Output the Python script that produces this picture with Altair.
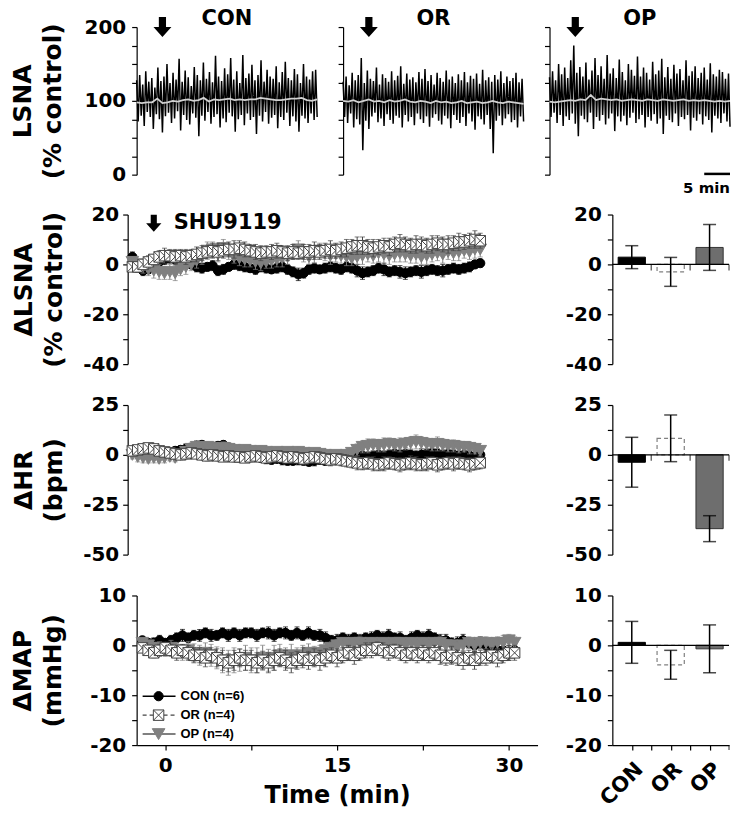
import altair as alt
import pandas as pd
import numpy as np

FONT = "DejaVu Sans"
LEG_FONT = "Liberation Sans"

# ---------------- data ----------------
GROUPS = ["CON", "OR", "OP"]
N_ANIMALS = [6, 4, 4]

# raw LSNA traces (% control), alternating peaks / troughs, -5..30 min
TRACE_T0, TRACE_T1 = -5, 30
CON_HI = [128, 135, 122, 140, 126, 131, 118, 145, 127, 133,
          150, 124, 138, 129, 157, 126, 141, 132, 120, 146,
          135, 128, 152, 130, 139, 125, 161, 133, 127, 144,
          136, 158, 129, 140, 124, 162, 131, 137, 149, 128,
          135, 155, 126, 142, 133, 130, 147, 125, 139, 153,
          131, 128, 143, 136, 124, 150, 133, 129, 140, 142]
CON_LO = [72, 80, 66, 85, 78, 62, 82, 75, 57, 79,
          84, 70, 76, 86, 60, 81, 74, 68, 83, 77,
          52, 80, 73, 85, 69, 78, 82, 64, 76, 71,
          84, 79, 58, 75, 81, 67, 83, 74, 78, 55,
          80, 72, 85, 69, 77, 81, 63, 78, 74, 84,
          66, 79, 72, 58, 80, 76, 70, 83, 74, 78]
OR_HI = [126, 133, 121, 138, 128, 135, 158, 124, 141, 130,
         127, 145, 122, 136, 131, 126, 140, 128, 134, 147,
         123, 137, 129, 132, 125, 139, 130, 143, 127, 135,
         122, 138, 131, 126, 141, 129, 133, 124, 136, 128,
         139, 125, 134, 130, 137, 123, 142, 128, 132, 126,
         135, 129, 140, 124, 133, 127, 131, 138, 125, 130]
OR_LO = [78, 70, 83, 64, 75, 68, 33, 73, 62, 79,
         84, 71, 76, 66, 82, 74, 69, 80, 77, 64,
         81, 72, 78, 67, 83, 75, 70, 79, 65, 77,
         82, 73, 68, 80, 76, 63, 81, 74, 70, 78,
         66, 83, 72, 61, 79, 75, 68, 81, 62, 29,
         73, 80, 67, 76, 82, 71, 74, 64, 79, 72]
OP_HI = [132, 140, 128, 150, 136, 145, 131, 155, 175, 138,
         146, 133, 152, 129, 141, 158, 135, 147, 130, 162,
         137, 144, 131, 156, 139, 128, 150, 142, 134, 160,
         133, 145, 138, 129, 153, 136, 141, 157, 132, 146,
         130, 149, 137, 143, 128, 155, 134, 140, 147, 131,
         138, 145, 129, 151, 136, 133, 142, 139, 130, 137]
OP_LO = [78, 84, 70, 81, 66, 79, 74, 83, 69, 52,
         80, 75, 71, 84, 62, 78, 73, 81, 68, 76,
         83, 59, 79, 72, 80, 67, 77, 84, 70, 75,
         81, 64, 78, 73, 82, 69, 76, 55, 80, 74,
         71, 83, 66, 78, 75, 81, 60, 77, 73, 82,
         68, 79, 74, 57, 80, 76, 70, 83, 72, 65]
CON_MEAN = [98, 97, 98, 98, 103, 97, 98, 100, 99, 101, 102, 100, 101, 104, 99, 102, 101, 102,
            103, 101, 102, 101, 102, 102, 104, 103, 102, 101, 101, 102, 103, 103, 104, 101, 100, 102]
OR_MEAN = [100, 99, 101, 98, 100, 102, 99, 100, 98, 101, 99, 100, 102, 99, 98, 100, 99, 97,
           100, 98, 99, 97, 98, 100, 97, 98, 99, 97, 98, 100, 98, 97, 99, 98, 97, 96]
OP_MEAN = [99, 98, 99, 100, 101, 100, 102, 101, 108, 101, 103, 102, 101, 102, 100, 101, 102, 101,
           100, 102, 101, 100, 102, 101, 100, 101, 102, 100, 101, 100, 101, 100, 99, 100, 99, 100]
DRUG_T = 0          # SHU9119 injection
SCALE_BAR = [25, 30]  # 5 min

# time course, samples every 0.5 min starting at -2 min
T_START, T_STEP = -2.0, 0.5

LSNA_CON = [3, -1, -2.5, -2, -1, 1, 2, 2.5, 2, 2.5,
            2, 0, -1, -1.5, -1, -0.5, -2.5, -2, -1, 0,
            -0.5, -1, -1.5, -2, -1, -1.5, -2, -1.5, -1, -2,
            -3, -4, -3.5, -2, -1.5, -2, -1.5, -1, -1.5, -2,
            -1, -1.5, -2.5, -3.5, -3, -2.5, -1.5, -2, -3, -2.5,
            -3, -3.5, -3, -2.5, -3, -2.5, -2, -2.5, -2.5, -2,
            -1.5, -2, -1.5, -1, 0, 0.5]
LSNA_OR = [-1, -1, 0, 1, 2, 3, 3.5, 3.5, 3, 3.5,
           3, 3.5, 4, 4.5, 5, 5.5, 5, 5.5, 6, 6,
           6.5, 6, 5.5, 5, 4.5, 5, 5, 5.5, 5, 4.5,
           5, 4.5, 5, 5, 5.5, 5, 5.5, 6, 5.5, 6,
           6.5, 7, 7.5, 7.5, 7, 6.5, 7, 7.5, 7, 8,
           8.5, 8, 7.5, 8, 8, 7.5, 8, 8.5, 8, 8,
           8.5, 9, 9, 9.5, 10, 9.5]
LSNA_OP = [1, 0, -1, -2, -2.5, -3, -3.5, -3, -3.5, -2,
           -1, 0, 1.5, 3, 5.5, 6, 4, 6.5, 5, 3,
           2.5, 2, 1.5, 1, 0.5, 1, 1.5, 2, 2.5, 3,
           5, 6, 4, 3, 4, 5.5, 4.5, 3.5, 4, 3.5,
           3, 2.5, 3, 3.5, 4, 3.5, 4.5, 4, 3.5, 4,
           4.5, 4, 3.5, 4, 3, 3.5, 4, 4.5, 4, 5,
           4.5, 5, 5.5, 5, 6, 6]
LSNA_CON_ERR = [2, 2, 2, 1.5, 1.5, 2, 2, 2, 1.5, 2,
                2, 1.5, 2, 2, 1.5, 2, 2, 2, 1.5, 2,
                2, 2, 1.5, 2, 2, 2, 1.5, 2, 2, 2,
                2, 2.5, 2, 2, 2, 1.5, 2, 2, 2, 2,
                2, 2, 2.5, 2.5, 2, 2, 2, 2.5, 2, 2,
                2.5, 2.5, 2, 2, 2.5, 2, 2, 2, 2.5, 2,
                2, 2, 2, 2, 1.5, 1.5]
LSNA_OR_ERR = [1.5, 2, 2, 2.5, 2, 2.5, 3, 2.5, 3, 2.5,
               3, 2.5, 3, 3, 2.5, 3, 3.5, 3, 3, 3.5,
               3, 3, 2.5, 3, 3, 2.5, 3, 3, 2.5, 3,
               3, 2.5, 3, 3, 3.5, 3, 3, 3.5, 3, 3,
               3.5, 3, 3.5, 3.5, 3, 3.5, 3, 3, 3.5, 3,
               3.5, 3, 3, 3.5, 3, 3, 3.5, 3, 3, 3.5,
               3, 3.5, 3, 3, 3.5, 3]
LSNA_OP_ERR = [2, 2, 2.5, 2.5, 3, 3, 2.5, 3, 3, 2.5,
               3, 2.5, 3, 3, 3.5, 3, 3, 3.5, 3, 2.5,
               3, 3, 2.5, 3, 3, 2.5, 3, 3, 3.5, 3,
               3, 3.5, 3, 3, 3.5, 3, 3, 3.5, 3, 3,
               3.5, 3, 3, 3.5, 3, 3, 3.5, 4, 3.5, 3,
               3.5, 3, 3, 3.5, 3, 3.5, 3, 3, 3.5, 3,
               3, 3.5, 3, 3, 3.5, 3]

HR_CON = [1.5, 1, 0.5, 0, 0.5, 1, 1.5, 1, 2, 2.5,
          3, 3.5, 4.5, 5, 4, 3, 4.5, 5, 3.5, 2,
          1, 0, -0.5, -1, -1.5, -2, -2.5, -2, -2.5, -3,
          -3, -2.5, -3, -3.5, -3, -2.5, -3, -2.5, -2, -2.5,
          -2, -1.5, -1, -0.5, -1, -0.5, 0, -0.5, 0, 0.5,
          0, 0.5, 0, -0.5, 0, 0.5, 1, 0.5, 0, 0.5,
          0, -0.5, 0, -0.5, -1, 0]
HR_OR = [2, 2.5, 3, 3.5, 3, 2, 1.5, 1, 0.5, 0,
         0.5, 1, 0.5, 0, -0.5, 0, -0.5, -1, -0.5, -1,
         -1, -1.5, -1, -0.5, -1, -1.5, -1, -0.5, -1, -1.5,
         -1, -1.5, -2, -1.5, -1, -1.5, -2, -2.5, -2, -2.5,
         -3, -3.5, -4, -4.5, -4, -4.5, -5, -4.5, -4, -4.5,
         -5, -4.5, -4, -4.5, -5, -4.5, -4, -5, -4.5, -4,
         -4.5, -4, -4.5, -5, -4.5, -4]
HR_OP = [0, -1, -1.5, -2, -1.5, -2, -1.5, -1, -1.5, 0,
         1.5, 3, 4, 3.5, 4, 3.5, 3, 3.5, 3, 2.5,
         2, 2.5, 2, 1.5, 2, 1.5, 1, 1.5, 1, 1.5,
         1, 1.5, 1, 0.5, 1, 0.5, 0, -0.5, 0, -0.5,
         0, 1, 2.5, 4, 4.5, 5, 4.5, 5, 5.5, 5,
         5, 5.5, 6, 6.5, 6, 5.5, 5, 5.5, 5, 4.5,
         4.5, 4, 4, 3.5, 3, 2]
HR_CON_ERR = [1.5, 1.5, 2, 2, 1.5, 2, 2, 2.5, 2, 2,
              2.5, 2, 2.5, 2, 2, 2.5, 2, 2, 2.5, 2,
              2, 2, 2.5, 2, 2, 2.5, 2, 2, 2.5, 2,
              2, 2.5, 2, 2, 2.5, 2, 2, 2.5, 2, 2.5,
              2.5, 2, 2.5, 3, 2.5, 2.5, 3, 2.5, 2.5, 3,
              2.5, 3, 2.5, 2.5, 3, 2.5, 3, 2.5, 2.5, 3,
              2.5, 2.5, 3, 2.5, 2.5, 2]
HR_OR_ERR = [2, 2, 2.5, 2, 2, 2.5, 2, 2, 2.5, 2,
             2.5, 2, 2, 2.5, 2.5, 2, 2.5, 2, 2.5, 2.5,
             2.5, 2, 2.5, 2.5, 2, 2.5, 2.5, 2, 2.5, 2.5,
             2.5, 2.5, 3, 2.5, 2.5, 3, 2.5, 3, 2.5, 3,
             3, 3, 3.5, 3, 3, 3.5, 3, 3.5, 3, 3,
             3.5, 3, 3.5, 3.5, 3, 3.5, 3, 3.5, 3, 3,
             3.5, 3, 3, 3.5, 3, 3]
HR_OP_ERR = [2, 2.5, 2.5, 2, 2.5, 2, 2.5, 2, 2, 2.5,
             2.5, 3, 2.5, 3, 2.5, 3, 2.5, 3, 2.5, 2.5,
             2.5, 2, 2.5, 2, 2.5, 2, 2.5, 2, 2.5, 2,
             2, 2.5, 2, 2.5, 2, 2.5, 2, 2.5, 2, 2,
             2.5, 2.5, 3, 3, 3.5, 3, 3, 3.5, 3, 3,
             3.5, 3, 3, 3.5, 3, 3, 3, 3.5, 3, 3,
             3, 3, 2.5, 3, 2.5, 2.5]

MAP_CON = [1, 0.5, 0.5, 1, 0.5, 1, 1.5, 2, 1.5, 2,
           2, 2.5, 2, 2, 2.5, 2, 2.5, 2, 2.5, 2.5,
           2, 2.5, 2.5, 2, 2.5, 2.5, 2, 2.5, 2, 2.5,
           2, 2, 1.5, 1, 1, 1.5, 1, 1.5, 1, 1.5,
           1.5, 2, 1.5, 2, 1.5, 1.5, 1, 1.5, 2, 1.5,
           2, 1.5, 1, 1, 0.5, 0.5, 1, 0.5, 0, 0.5,
           0, -0.5, -1, -1, -1.5, -1]
MAP_OR = [-0.5, -1, -1.5, -1, -0.5, -1, -1.5, -1, -1.5, -2,
          -2, -2.5, -2, -2.5, -3, -3.5, -3, -2.5, -3, -3,
          -3.5, -3, -3.5, -3, -2.5, -3, -3.5, -3, -2.5, -3,
          -2.5, -3, -2.5, -2, -2.5, -2, -1.5, -2, -1.5, -1,
          -1, -0.5, -1, -1.5, -1, -1.5, -2, -1.5, -2, -1.5,
          -2, -1.5, -2, -2.5, -2, -2.5, -3, -2.5, -3, -2.5,
          -2.5, -2, -2.5, -2, -1.5, -1.5]
MAP_OP = [0.5, 0, -0.5, -0.5, -1, -0.5, -1, -1.5, -1, -1.5,
          -2, -1.5, -2, -2.5, -3, -3.5, -3, -3, -2.5, -3,
          -3, -2.5, -3, -2.5, -2, -2.5, -2, -2.5, -2, -1.5,
          -2, -1.5, -1, -0.5, 0, 0.5, 0, 0.5, 0.5, 0,
          0.5, 0, 0.5, 0, 0.5, 0.5, 0, 0.5, 0, 0.5,
          0, 0.5, 0.5, 0, 0, -0.5, 0, 0.5, 0, 0.5,
          0.5, 0, 0.5, 0.5, 1, 0.5]
MAP_CON_ERR = [0.8, 0.8, 1, 1, 0.8, 1, 1, 1.2, 1, 1,
               1.2, 1, 1.2, 1, 1, 1.2, 1, 1.2, 1, 1,
               1.2, 1, 1.2, 1.2, 1, 1.2, 1, 1.2, 1, 1.2,
               1, 1.2, 1.2, 1, 1.2, 1, 1.2, 1, 1.2, 1,
               1.2, 1, 1.2, 1.2, 1, 1.2, 1, 1.2, 1, 1.2,
               1.2, 1, 1.2, 1.2, 1, 1.2, 1.2, 1, 1.2, 1.2,
               1.2, 1, 1.2, 1.2, 1.5, 1.2]
MAP_OR_ERR = [0.8, 1, 1, 1.2, 1, 1.2, 1.5, 1.2, 1.5, 1.5,
              1.5, 1.8, 1.5, 1.8, 2, 1.8, 2, 1.8, 2, 2,
              2, 1.8, 2, 2, 1.8, 2, 2, 1.8, 2, 1.8,
              1.8, 2, 1.8, 1.5, 1.8, 1.5, 1.5, 1.8, 1.5, 1.5,
              1.5, 1.2, 1.5, 1.5, 1.2, 1.5, 1.5, 1.2, 1.5, 1.5,
              1.5, 1.5, 1.8, 1.5, 1.8, 1.5, 1.8, 1.5, 1.8, 1.5,
              1.5, 1.5, 1.8, 1.5, 1.5, 1.5]
MAP_OP_ERR = [0.8, 1, 1, 1.2, 1.2, 1.5, 1.5, 1.5, 1.8, 1.8,
              2, 2, 2.2, 2.2, 2.5, 2.5, 2.5, 2.2, 2.5, 2.5,
              2.5, 2.5, 2.2, 2.5, 2.2, 2, 2.2, 2, 2, 1.8,
              1.8, 1.5, 1.5, 1.2, 1.2, 1, 1.2, 1, 1.2, 1,
              1, 1.2, 1, 1.2, 1, 1, 1.2, 1, 1.2, 1,
              1.2, 1, 1.2, 1.2, 1, 1.2, 1, 1.2, 1, 1.2,
              1.2, 1.5, 1.2, 1.5, 1.2, 1.2]

# summary bars (mean +/- SD)
LSNA_BAR = [2.9, -3.0, 6.8]
LSNA_BAR_ERR = [4.6, 5.8, 9.2]
HR_BAR = [-3.7, 8.3, -37.0]
HR_BAR_ERR = [12.5, 11.7, 6.5]
MAP_BAR = [0.6, -3.9, -0.7]
MAP_BAR_ERR = [4.2, 2.9, 4.8]

# ---------------- styles ----------------
XSQ = "M-1,-1L1,-1L1,1L-1,1ZM-1,-1L1,1M1,-1L-1,1"
ARROW = "M-0.36,-1L0.36,-1L0.36,0L0.9,0L0,1L-0.9,0L-0.36,0Z"
STY = {
    "CON": dict(color="black", shape="circle", fill="black", size=85, dash=[1, 0], lw=1.5),
    "OR": dict(color="#444444", shape=XSQ, fill="white", size=110, dash=[4, 3], lw=1.2),
    "OP": dict(color="#808080", shape="triangle-down", fill="#808080", size=160, dash=[1, 0], lw=2),
}
PAD = {"left": 3, "top": -1, "right": 0, "bottom": 0}
TRACE_W, TRACE_H, TRACE_GAP = 181, 148, 26
TS_H, ROW_GAP = 150, 41
BAR_W = 117


def trace_chart(name, hi, lo, mean, first, last):
    vals = [v for pair in zip(hi, lo) for v in pair]
    t = np.linspace(TRACE_T0, TRACE_T1, len(vals))
    df = pd.DataFrame({"t": t, "v": vals})
    mdf = pd.DataFrame({"t": np.linspace(TRACE_T0, TRACE_T1, len(mean)), "v": mean})
    x = alt.X("t:Q", scale=alt.Scale(domain=[TRACE_T0, TRACE_T1], nice=False, zero=False), axis=None)
    yv = list(range(0, 201, 25))
    if first:
        yax = alt.Axis(values=yv, labelExpr="datum.value % 100 === 0 ? '' + datum.value : ''",
                       title=["LSNA", "(% control)"], minExtent=54, maxExtent=54,
                       labelPadding=6, titlePadding=20 - PAD["left"])
    else:
        yax = alt.Axis(values=yv, labels=False, title=None)
    y = alt.Y("v:Q", scale=alt.Scale(domain=[0, 200], nice=False, zero=False), axis=yax)
    layers = [
        alt.Chart(df).mark_line(color="black", strokeWidth=1.5).encode(x=x, y=y),
        alt.Chart(mdf).mark_line(color="#d2d2d2", strokeWidth=1.8).encode(x=x, y=y),
        alt.Chart(pd.DataFrame({"t": [DRUG_T], "v": [200]})).mark_point(
            shape=ARROW, filled=True, color="black", size=400, opacity=1).encode(x=x, y=y),
        alt.Chart(pd.DataFrame({"name": [name]})).mark_text(
            align="center", baseline="alphabetic", font=FONT, fontWeight="bold", fontSize=21,
            color="black").encode(x=alt.value(TRACE_W / 2), y=alt.value(-2), text="name:N"),
    ]
    if last:
        sb = pd.DataFrame({"t": [SCALE_BAR[0]], "t2": [SCALE_BAR[1]], "v": [1]})
        layers.append(alt.Chart(sb).mark_rule(color="black", strokeWidth=2.5).encode(x=x, x2="t2:Q", y=y))
        sbt = pd.DataFrame({"t": [SCALE_BAR[1]], "v": [0], "lab": ["5 min"]})
        layers.append(alt.Chart(sbt).mark_text(align="right", baseline="middle", dy=13, font=FONT,
                                               fontWeight="bold", fontSize=15, color="black").encode(
            x=x, y=y, text="lab:N"))
    return alt.layer(*layers).properties(width=TRACE_W, height=TRACE_H)


def ts_chart(means, errs, ydom, ystep, lstep, title, width, xdom, axis_off, lpad, tpad,
             xaxis_on=False, extra=None):
    rows = []
    for g in GROUPS:
        for i, (mv, ev) in enumerate(zip(means[g], errs[g])):
            rows.append({"group": g, "t": T_START + T_STEP * i, "m": mv, "lo": mv - ev, "hi": mv + ev})
    df = pd.DataFrame(rows)
    if xaxis_on:
        xax = alt.Axis(values=[0, 7.5, 15, 22.5, 30],
                       labelExpr="datum.value % 15 === 0 ? '' + datum.value : ''",
                       title="Time (min)", titleFontSize=24, labelPadding=6, titlePadding=8,
                       labelFlush=False)
    else:
        xax = None
    x = alt.X("t:Q", scale=alt.Scale(domain=xdom, nice=False, zero=False), axis=xax)
    yvals = [float(v) for v in np.arange(ydom[0], ydom[1] + 1e-9, ystep)]
    yax = alt.Axis(values=yvals, labelExpr=f"datum.value % {lstep} === 0 ? '' + datum.value : ''",
                   title=title, offset=axis_off, minExtent=54, maxExtent=54,
                   labelPadding=lpad, titlePadding=tpad - PAD["left"])
    ysc = alt.Scale(domain=ydom, nice=False, zero=False)
    layers = []
    for g in ["CON", "OP", "OR"]:
        s = STY[g]
        d = alt.Chart(df).transform_filter(alt.datum.group == g)
        layers.append(d.mark_rule(color=s["color"], strokeWidth=1).encode(
            x=x, y=alt.Y("lo:Q", scale=ysc, axis=yax), y2="hi:Q"))
        layers.append(d.mark_tick(color=s["color"], orient="horizontal", size=5, thickness=1).encode(
            x=x, y=alt.Y("lo:Q", scale=ysc, axis=yax)))
        layers.append(d.mark_tick(color=s["color"], orient="horizontal", size=5, thickness=1).encode(
            x=x, y=alt.Y("hi:Q", scale=ysc, axis=yax)))
        layers.append(d.mark_line(color=s["color"], strokeWidth=1, strokeDash=s["dash"]).encode(
            x=x, y=alt.Y("m:Q", scale=ysc, axis=yax)))
        layers.append(d.mark_point(shape=s["shape"], filled=True, fill=s["fill"], stroke=s["color"],
                                   strokeWidth=1, size=s["size"], opacity=1).encode(
            x=x, y=alt.Y("m:Q", scale=ysc, axis=yax)))
    if extra is not None:
        layers.extend(extra(x, ysc, yax))
    return alt.layer(*layers).properties(width=width, height=TS_H)


def bar_chart(means, errs, ydom, ystep, lstep, xaxis_on=False):
    pos = [i + 0.5 for i in range(len(GROUPS))]
    n = len(GROUPS)
    df = pd.DataFrame({"group": GROUPS, "pos": pos,
                       "x0": [p - 0.35 for p in pos], "x1": [p + 0.35 for p in pos],
                       "m": means, "zero": [0.0] * n,
                       "lo": [m - e for m, e in zip(means, errs)],
                       "hi": [m + e for m, e in zip(means, errs)]})
    bnd = [p + 0.5 for p in pos]  # category boundaries
    if xaxis_on:
        expr = " : ".join(f"datum.value === {p} ? '{g}'" for p, g in zip(pos, GROUPS)) + " : ''"
        # last boundary tick is drawn as a mark so its empty label does not widen the chart
        xax = alt.Axis(values=sorted(pos + bnd[:-1]), labelExpr=expr, labelAngle=-45,
                       labelAlign="right", labelBaseline="top", labelPadding=8, labelFlush=False,
                       labelFontSize=21, title=None)
    else:
        xax = None
    xsc = alt.Scale(domain=[0, n], nice=False, zero=False)
    yvals = [float(v) for v in np.arange(ydom[0], ydom[1] + 1e-9, ystep)]
    yax = alt.Axis(values=yvals, labelExpr=f"datum.value % {lstep} === 0 ? '' + datum.value : ''",
                   title=None, labelPadding=6)
    ysc = alt.Scale(domain=ydom, nice=False, zero=False)
    Y = lambda f: alt.Y(f, scale=ysc, axis=yax)
    Xp = alt.X("pos:Q", scale=xsc, axis=xax)
    layers = []
    bar_sty = {
        "CON": dict(fill="black", stroke="black", strokeWidth=1),
        "OR": dict(fill="white", stroke="#808080", strokeWidth=1.2, strokeDash=[4, 3]),
        "OP": dict(fill="#6e6e6e", stroke="#333333", strokeWidth=1),
    }
    for g in GROUPS:
        layers.append(alt.Chart(df).transform_filter(alt.datum.group == g).mark_rect(**bar_sty[g]).encode(
            x=alt.X("x0:Q", scale=xsc, axis=xax), x2="x1:Q", y=Y("m:Q"), y2="zero:Q"))
    layers.append(alt.Chart(df.head(1)).mark_rule(color="black", strokeWidth=1.2).encode(y=Y("zero:Q")))
    if not xaxis_on:
        bdf = pd.DataFrame({"b": bnd, "base": [0.0] * n})
        layers.append(alt.Chart(bdf).mark_tick(color="black", orient="vertical", size=6, thickness=1.2,
                                               yOffset=3).encode(
            x=alt.X("b:Q", scale=xsc, axis=xax), y=Y("base:Q")))
    else:
        bdf = pd.DataFrame({"b": bnd[-1:], "base": [float(ydom[0])]})
        layers.append(alt.Chart(bdf).mark_tick(color="black", orient="vertical", size=5, thickness=1.2,
                                               yOffset=2.5).encode(
            x=alt.X("b:Q", scale=xsc, axis=xax), y=Y("base:Q")))
    layers.append(alt.Chart(df).mark_rule(color="black", strokeWidth=1.5).encode(x=Xp, y=Y("lo:Q"), y2="hi:Q"))
    layers.append(alt.Chart(df).mark_tick(color="black", orient="horizontal", size=13, thickness=1.5).encode(
        x=Xp, y=Y("lo:Q")))
    layers.append(alt.Chart(df).mark_tick(color="black", orient="horizontal", size=13, thickness=1.5).encode(
        x=Xp, y=Y("hi:Q")))
    return alt.layer(*layers).properties(width=BAR_W, height=TS_H)


def lsna_extra(x, ysc, yax):
    a = pd.DataFrame({"t": [DRUG_T], "m": [16.5], "lab": ["SHU9119"]})
    return [
        alt.Chart(a).mark_point(shape=ARROW, filled=True, color="black", size=290, opacity=1).encode(
            x=x, y=alt.Y("m:Q", scale=ysc, axis=yax)),
        alt.Chart(a).mark_text(align="left", baseline="middle", dx=20, font=FONT, fontWeight="bold",
                               fontSize=21, color="black").encode(
            x=x, y=alt.Y("m:Q", scale=ysc, axis=yax), text="lab:N"),
    ]


def map_extra(x, ysc, yax):
    out = []
    for i, (g, n) in enumerate(zip(GROUPS, N_ANIMALS)):
        s = STY[g]
        ly = 101 + 19 * i
        d = alt.Chart(pd.DataFrame({"lab": [f"{g} (n={n})"]}))
        out.append(d.mark_rule(color=s["color"], strokeWidth=s["lw"], strokeDash=s["dash"]).encode(
            x=alt.value(6), x2=alt.value(39), y=alt.value(ly)))
        out.append(d.mark_point(shape=s["shape"], filled=True, fill=s["fill"], stroke=s["color"],
                                strokeWidth=1, size=s["size"], opacity=1).encode(
            x=alt.value(22), y=alt.value(ly)))
        out.append(d.mark_text(align="left", baseline="middle", font=LEG_FONT, fontWeight="bold",
                               fontSize=13, color="black").encode(
            x=alt.value(44), y=alt.value(ly), text="lab:N"))
    return out


top = alt.hconcat(
    trace_chart("CON", CON_HI, CON_LO, CON_MEAN, True, False),
    trace_chart("OR", OR_HI, OR_LO, OR_MEAN, False, False),
    trace_chart("OP", OP_HI, OP_LO, OP_MEAN, False, True),
    spacing=TRACE_GAP, bounds="flush")

SMALL_DOM = [-1.6, 32.5]
lsna_ts = ts_chart({"CON": LSNA_CON, "OR": LSNA_OR, "OP": LSNA_OP},
                   {"CON": LSNA_CON_ERR, "OR": LSNA_OR_ERR, "OP": LSNA_OP_ERR},
                   [-40, 20], 10, 20, ["ΔLSNA", "(% control)"], 366, SMALL_DOM, 9, 4, 10,
                   extra=lsna_extra)
hr_ts = ts_chart({"CON": HR_CON, "OR": HR_OR, "OP": HR_OP},
                 {"CON": HR_CON_ERR, "OR": HR_OR_ERR, "OP": HR_OP_ERR},
                 [-50, 25], 12.5, 25, ["ΔHR", "(bpm)"], 366, SMALL_DOM, 9, 4, 10)
map_ts = ts_chart({"CON": MAP_CON, "OR": MAP_OR, "OP": MAP_OP},
                  {"CON": MAP_CON_ERR, "OR": MAP_OR_ERR, "OP": MAP_OP_ERR},
                  [-20, 10], 5, 10, ["ΔMAP", "(mmHg)"], 402, [-2.5, 32.5], 0, 6, 20,
                  xaxis_on=True, extra=map_extra)

left_col = alt.vconcat(lsna_ts, hr_ts, map_ts, spacing=ROW_GAP, bounds="flush")
right_col = alt.vconcat(
    bar_chart(LSNA_BAR, LSNA_BAR_ERR, [-40, 20], 10, 20),
    bar_chart(HR_BAR, HR_BAR_ERR, [-50, 25], 12.5, 25),
    bar_chart(MAP_BAR, MAP_BAR_ERR, [-20, 10], 5, 10, xaxis_on=True),
    spacing=ROW_GAP, bounds="flush")
bottom = alt.hconcat(left_col, right_col, spacing=27)

chart = alt.vconcat(top, bottom, spacing=9).properties(
    padding=PAD
).configure_view(stroke=None).configure_axis(
    domainColor="black", tickColor="black", domainWidth=1.2, tickWidth=1.2, tickSize=5, grid=False,
    labelFont=FONT, labelFontWeight="bold", labelFontSize=20, labelColor="black", labelOverlap=False,
    titleFont=FONT, titleFontWeight="bold", titleFontSize=25, titleColor="black", titleLineHeight=30,
)

chart.save("out.html", embed_options={"renderer": "svg", "actions": False})
